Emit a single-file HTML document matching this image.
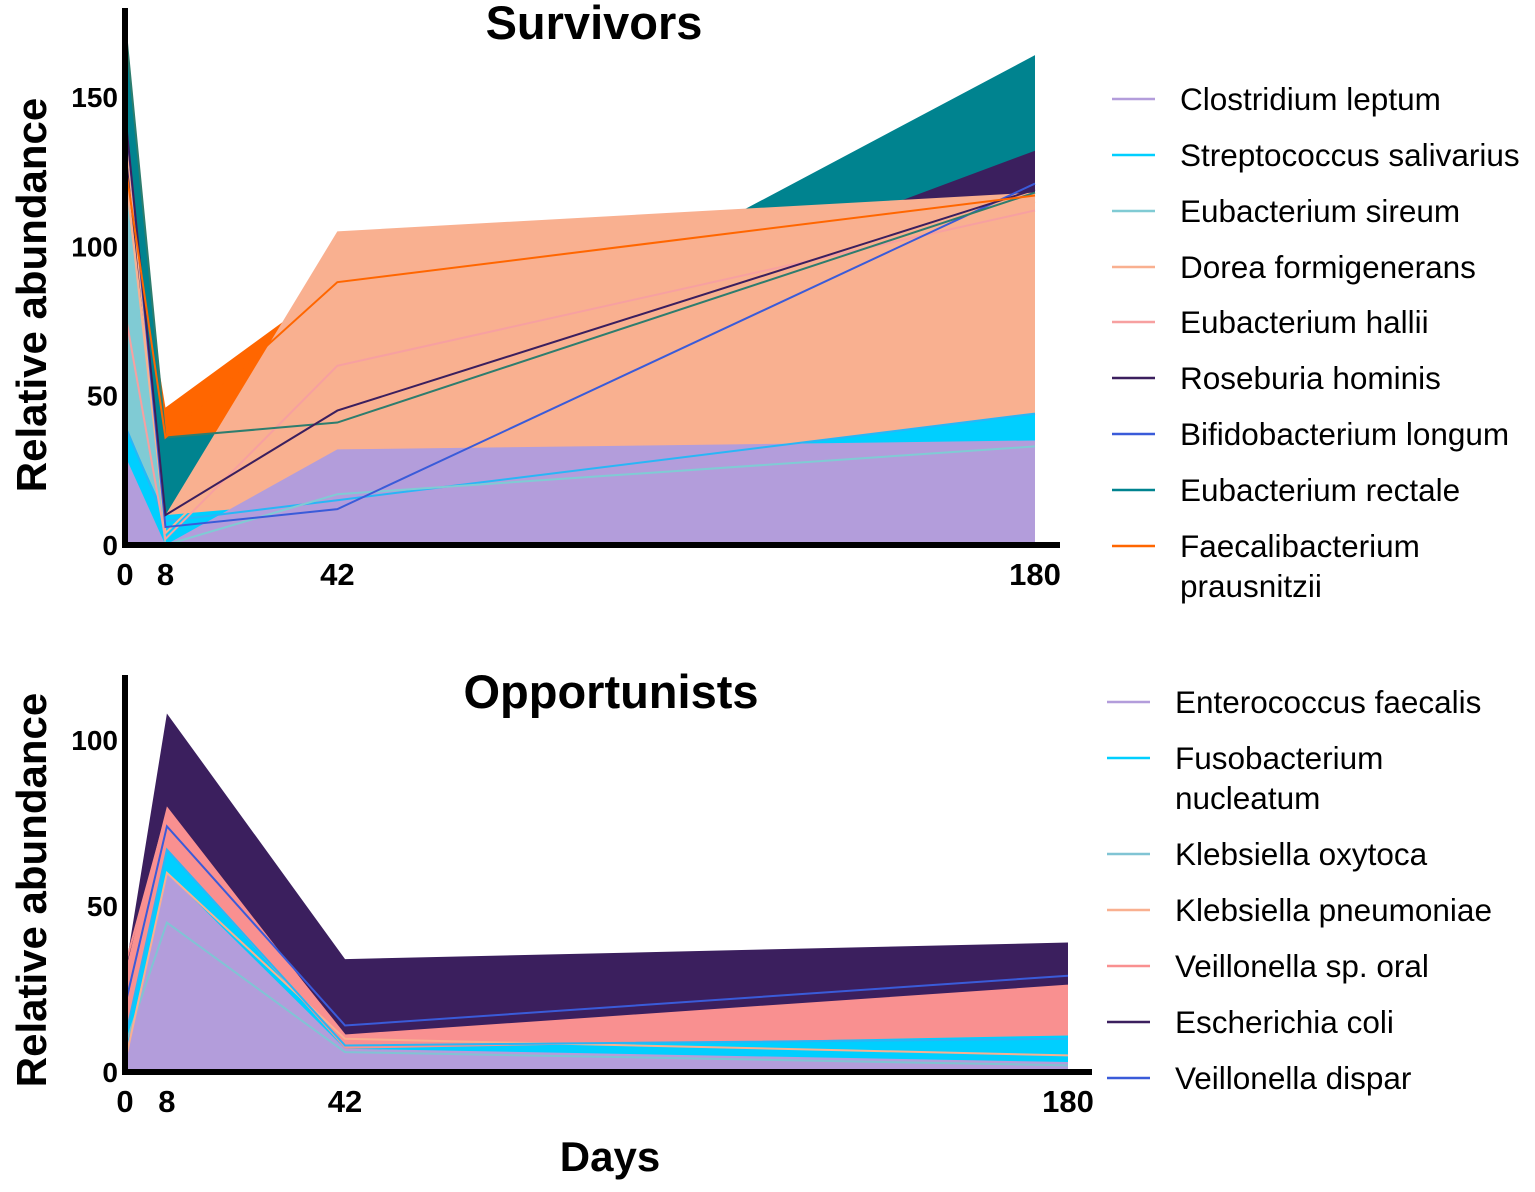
<!DOCTYPE html>
<html><head><meta charset="utf-8"><style>
body{margin:0;background:#fff}
svg text{font-family:"Liberation Sans",Arial,sans-serif}
</style></head><body>
<svg id="chart" width="1535" height="1187" viewBox="0 0 1535 1187" xmlns="http://www.w3.org/2000/svg">
<g id="top"></g>
<g id="bot"></g>
</svg>
<script>
const days = [0, 8, 42, 180];
const topTicksY = [0, 50, 100, 150];
const botTicksY = [0, 50, 100];
// Survivors
const topNames = ["Clostridium leptum","Streptococcus salivarius","Eubacterium sireum","Dorea formigenerans","Eubacterium hallii","Roseburia hominis","Bifidobacterium longum","Eubacterium rectale","Faecalibacterium prausnitzii"];
const topColors = ["#b39ddb","#00cfff","#80cbd4","#f9b090","#f7a0a0","#3b1f5e","#3a5bd9","#00838f","#ff6600"];
const rectaleArea = [176, 36, 40, 164];
const faecaliArea = [128, 46, 88, 117];
const roseburiaArea = [145, 10, 45, 132];
const doreaArea = [130, 10, 105, 118];
const sireumArea = [120, 0, 17, 33];
const streptoArea = [40, 10, 15, 44];
const clostridiumArea = [30, 0, 32, 35];
const bifidoLine = [145, 6, 12, 121];
const rectaleLine = [175, 36, 41, 118];
const roseburiaLine = [145, 10, 45, 119];
const faecaliLine = [128, 36, 88, 117];
const halliiLine = [78, 2, 60, 112];
const sireumLine = [120, 0, 17, 33];
const streptoLine = [40, 8, 15, 44];
const doreaLine = [140, 4, 60, 115];
// Opportunists
const botNames = ["Enterococcus faecalis","Fusobacterium nucleatum","Klebsiella oxytoca","Klebsiella pneumoniae","Veillonella sp. oral","Escherichia coli","Veillonella dispar"];
const botColors = ["#b39ddb","#00cfff","#80c4d4","#f9b090","#f99090","#3b1f5e","#3a5bd9"];
const coliArea = [30, 108, 34, 39];
const oralArea = [30, 80, 11, 26];
const fusoArea = [10, 67, 7, 11];
const enteroArea = [5, 60, 7, 3];
const disparLine = [20, 74, 14, 29];
const oxytocaLine = [8, 45, 6, 2];
const pneumoLine = [3, 60, 10, 5];
const fusoLine = [10, 67, 8, 10];
const oralLine = [32, 78, 11, 26];

const NS="http://www.w3.org/2000/svg";
function mk(p,t,a){const e=document.createElementNS(NS,t);for(const k in a)e.setAttribute(k,a[k]);p.appendChild(e);return e;}
function panel(g,cfg){
  const sx=d=>cfg.x0+(cfg.x1-cfg.x0)*d/180;
  const sy=v=>cfg.y0-v*cfg.k;
  cfg.areas.forEach(([vals,col,nm])=>{
    let pts=days.map((d,i)=>sx(d)+","+sy(vals[i])).join(" ");
    pts+=" "+sx(180)+","+sy(0)+" "+sx(0)+","+sy(0);
    const p=mk(g,"polygon",{points:pts,fill:col});
    
    
  });
  cfg.lines.forEach(([vals,col,nm])=>{
    const p=mk(g,"polyline",{points:days.map((d,i)=>sx(d)+","+sy(vals[i])).join(" "),fill:"none",stroke:col,"stroke-width":2});
    
    
  });
  const ya=mk(g,"line",{x1:cfg.x0,x2:cfg.x0,y1:cfg.ytop,y2:cfg.y0+3,stroke:"#000","stroke-width":6});
  
  
  const xa=mk(g,"line",{x1:cfg.x0-3,x2:cfg.xend,y1:cfg.y0,y2:cfg.y0,stroke:"#000","stroke-width":6});
  
  
  cfg.ticks.forEach(v=>{
    const t=mk(g,"text",{x:cfg.x0-7,y:sy(v)+10,"text-anchor":"end","font-size":28,"font-weight":"bold"});
    t.textContent=v;
    
    
  });
  days.forEach(d=>{
    const t=mk(g,"text",{x:sx(d),y:cfg.y0+40,"text-anchor":"middle","font-size":31,"font-weight":"bold"});
    t.textContent=d;
    
    
  });
  const ti=mk(g,"text",{x:cfg.tx,y:cfg.ty,"text-anchor":"middle","font-size":47,"font-weight":"bold"});
  ti.textContent=cfg.title;
  
  
  const yt=mk(g,"text",{x:0,y:0,"text-anchor":"middle","font-size":42,"font-weight":"bold",transform:`translate(46,${cfg.yty}) rotate(-90)`});
  yt.textContent="Relative abundance";
  
  
  cfg.legend.forEach(([name,col,y],i)=>{
    const lg=mk(g,"g",{});
    
    
    mk(lg,"line",{x1:cfg.lx,x2:cfg.lx+43,y1:y,y2:y,stroke:col,"stroke-width":2.5});
    const parts=name.split("|");
    parts.forEach((s,j)=>{const t=mk(lg,"text",{x:cfg.lx+68,y:y+11+j*40,"font-size":31.5});t.textContent=s;});
  });
}
const T=topTicksY, B=botTicksY;
panel(document.getElementById("top"),{x0:125,x1:1035,xend:1060,y0:545,k:2.987,ytop:8,ticks:T,title:"Survivors",tx:594,ty:39,yty:295,lx:1112,
 areas:[[faecaliArea,topColors[8],"area-faecalibacterium"],[rectaleArea,topColors[7],"area-eubacterium-rectale"],[roseburiaArea,topColors[5],"area-roseburia"],[doreaArea,topColors[3],"area-dorea"],[sireumArea,topColors[2],"area-eubacterium-sireum"],[streptoArea,topColors[1],"area-streptococcus"],[clostridiumArea,topColors[0],"area-clostridium"]],
 lines:[[streptoLine,"#29b6f6","line-streptococcus"],[sireumLine,"#80cbd4","line-eubacterium-sireum"],[doreaLine,"#f9b090","line-dorea"],[halliiLine,"#f7a0a0","line-eubacterium-hallii"],[bifidoLine,"#3a5bd9","line-bifidobacterium"],[rectaleLine,"#2e7d6e","line-eubacterium-rectale"],[roseburiaLine,"#3b1f5e","line-roseburia"],[faecaliLine,"#ff6600","line-faecalibacterium"]],
 legend:[["Clostridium leptum",topColors[0],99],["Streptococcus salivarius",topColors[1],155],["Eubacterium sireum",topColors[2],211],["Dorea formigenerans",topColors[3],267],["Eubacterium hallii",topColors[4],322],["Roseburia hominis",topColors[5],378],["Bifidobacterium longum",topColors[6],434],["Eubacterium rectale",topColors[7],490],["Faecalibacterium|prausnitzii",topColors[8],546]]});
panel(document.getElementById("bot"),{x0:125,x1:1068,xend:1092,y0:1072,k:3.32,ytop:675,ticks:B,title:"Opportunists",tx:611,ty:708,yty:890,lx:1107,
 areas:[[coliArea,botColors[5],"area-escherichia-coli"],[oralArea,botColors[4],"area-veillonella-oral"],[fusoArea,botColors[1],"area-fusobacterium"],[enteroArea,botColors[0],"area-enterococcus"]],
 lines:[[oxytocaLine,"#80c4d4","line-klebsiella-oxytoca"],[pneumoLine,"#f9b090","line-klebsiella-pneumoniae"],[fusoLine,"#29b6f6","line-fusobacterium"],[oralLine,"#f99090","line-veillonella-oral"],[disparLine,"#3a5bd9","line-veillonella-dispar"]],
 legend:[["Enterococcus faecalis",botColors[0],702],["Fusobacterium|nucleatum",botColors[1],758],["Klebsiella oxytoca",botColors[2],854],["Klebsiella pneumoniae",botColors[3],910],["Veillonella sp. oral",botColors[4],966],["Escherichia coli",botColors[5],1022],["Veillonella dispar",botColors[6],1078]]});
const dx=mk(document.getElementById("chart"),"text",{x:610,y:1171,"text-anchor":"middle","font-size":42,"font-weight":"bold"});
dx.textContent="Days";


</script>
</body></html>
